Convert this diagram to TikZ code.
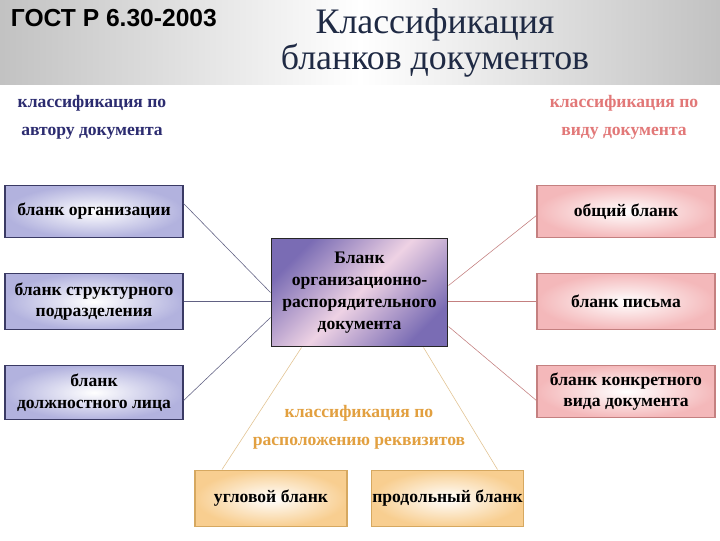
\documentclass[tikz,border=0pt]{standalone}
\usepackage{fontspec}
\setmainfont{Liberation Serif}
\newfontfamily\gostfont{Liberation Sans}
\usetikzlibrary{calc}

\definecolor{titlenavy}{RGB}{31,42,68}
\definecolor{authortext}{RGB}{44,44,112}
\definecolor{authorline}{RGB}{58,58,100}
\definecolor{authorfill}{RGB}{178,178,222}
\definecolor{kindtext}{RGB}{226,120,120}
\definecolor{kindline}{RGB}{196,128,128}
\definecolor{kindfill}{RGB}{244,184,186}
\definecolor{placetext}{RGB}{226,160,64}
\definecolor{placeline}{RGB}{214,168,96}
\definecolor{placefill}{RGB}{248,206,144}
\definecolor{mainfill}{RGB}{122,108,180}
\definecolor{mainlight}{RGB}{238,210,228}

\begin{document}
\begin{tikzpicture}[x=0.025cm, y=-0.025cm,
    boxtext/.style={align=center, inner sep=0pt, font=\bfseries\fontsize{12.5}{15.5}\selectfont},
    authorbox/.style={boxtext, draw=authorline, line width=0.8pt, inner color=white, outer color=authorfill},
    kindbox/.style={boxtext, draw=kindline, line width=0.8pt, inner color=white, outer color=kindfill},
    placebox/.style={boxtext, draw=placeline, line width=0.8pt, inner color=white, outer color=placefill},
    heading/.style={align=center, font=\bfseries\fontsize{12.5}{20}\selectfont}]
% Picture frame, pixel coordinates
\useasboundingbox (0,0) rectangle (720,540);
\fill[white] (0,0) rectangle (720,540);

% Header band
\shade[left color=black!24, right color=black!24, middle color=white] (0,0) rectangle (720,84);
\node[anchor=west, font=\gostfont\bfseries\fontsize{17.5}{20}\selectfont] (gost) at (6,18) {ГОСТ Р 6.30-2003};
\node[align=center, text=titlenavy, font=\fontsize{25.5}{25}\selectfont] (title) at (435,43) {Классификация\\бланков документов};

% Headings of the three classifications
\node[heading, text=authortext] (authorhead) at (92,117) {классификация по\\автору документа};
\node[heading, text=kindtext] (kindhead) at (624,117) {классификация по\\виду документа};
\node[heading, text=placetext] (placehead) at (359,427) {классификация по\\расположению реквизитов};

% Main box
\node[boxtext, draw=black!85, line width=0.8pt, minimum width=4.42cm, minimum height=2.72cm,
      left color=mainfill, right color=mainfill, middle color=mainlight, shading angle=45] (main) at (359.5,292.5)
      {Бланк\\организационно-\\распорядительного\\документа};

% By author
\node[authorbox, minimum width=4.45cm, minimum height=1.32cm] (org) at (94,211.5) {бланк организации};
\node[authorbox, minimum width=4.45cm, minimum height=1.42cm] (unit) at (94,301.5) {бланк структурного\\подразделения};
\node[authorbox, minimum width=4.45cm, minimum height=1.37cm] (person) at (94,392.5) {бланк\\должностного лица};

% By kind
\node[kindbox, minimum width=4.45cm, minimum height=1.32cm] (general) at (626,211.5) {общий бланк};
\node[kindbox, minimum width=4.45cm, minimum height=1.42cm] (letter) at (626,301.5) {бланк письма};
\node[kindbox, minimum width=4.45cm, minimum height=1.32cm] (concrete) at (626,391.5) {бланк конкретного\\вида документа};

% By placement of details
\node[placebox, minimum width=3.8cm, minimum height=1.42cm] (corner) at (271,498.5) {угловой бланк};
\node[placebox, minimum width=3.78cm, minimum height=1.42cm] (long) at (447.5,498.5) {продольный бланк};

% Connectors
\draw[authorline!80] ($(org.east)+(0,-8)$) -- (main.west);
\draw[authorline!80] (unit.east) -- (main.west |- unit.east);
\draw[authorline!80] ($(person.east)+(0,8)$) -- ($(main.west)+(0,25)$);
\draw[kindline] ($(general.west)+(0,4)$) -- ($(main.east)+(0,-7)$);
\draw[kindline] (letter.west) -- (main.east |- letter.west);
\draw[kindline] ($(concrete.west)+(0,9)$) -- ($(main.east)+(0,34)$);
\draw[placeline!70] ($(main.south)+(-58,0)$) -- ($(corner.north)+(-49,0)$);
\draw[placeline!70] ($(main.south)+(64,0)$) -- ($(long.north)+(50,0)$);
\end{tikzpicture}
\end{document}
